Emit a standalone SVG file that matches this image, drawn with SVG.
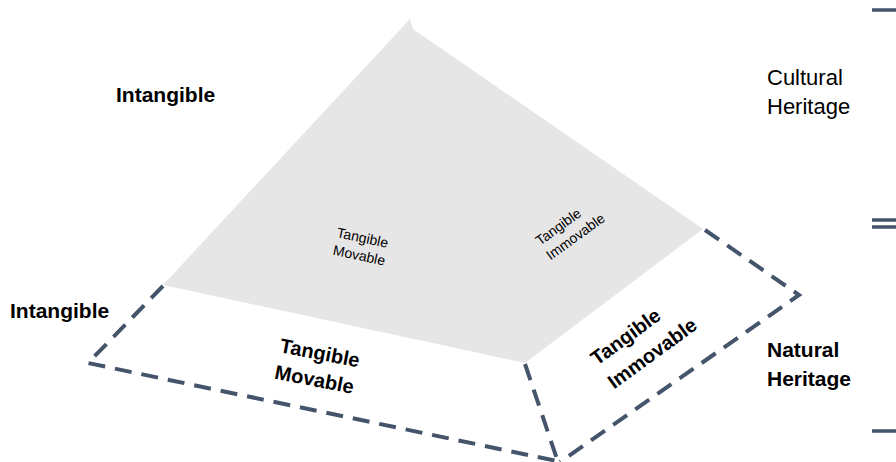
<svg xmlns="http://www.w3.org/2000/svg" width="896" height="462" viewBox="0 0 896 462">
  <style>
    .lbl { font-family: "Liberation Sans", Arial, sans-serif; fill: #000; }
    .b { font-weight: bold; }
    .edge { fill: none; stroke: #44546a; stroke-width: 4; stroke-dasharray: 17 10; }
    .tick { stroke: #44546a; stroke-width: 3.5; }
  </style>
  <rect width="896" height="462" fill="#ffffff"/>

  <!-- top face of the heritage pyramid -->
  <g id="top-face">
    <polygon points="410,19 413,29 703,229 525,363 163,285" fill="#e7e6e6"/>
    <text class="lbl" font-size="14" transform="translate(336,237) rotate(12)">
      <tspan x="0" y="0">Tangible</tspan><tspan x="0" y="18">Movable</tspan>
    </text>
    <text class="lbl" font-size="14" transform="translate(540,246) rotate(-36)">
      <tspan x="0" y="0">Tangible</tspan><tspan x="0" y="18">Immovable</tspan>
    </text>
  </g>

  <!-- lower edges -->
  <g id="connectors">
    <polyline class="edge" points="163,286 88,363 557,461"/>
    <line class="edge" x1="525" y1="364" x2="558" y2="462"/>
    <polyline class="edge" points="705,230 799,295 560,462"/>
  </g>

  <g id="movable-face">
    <text class="lbl b" font-size="20" transform="translate(279,352) rotate(11)">
      <tspan x="0" y="0">Tangible</tspan><tspan x="0" y="27">Movable</tspan>
    </text>
  </g>

  <g id="immovable-face">
    <text class="lbl b" font-size="20" transform="translate(597,366) rotate(-36)">
      <tspan x="0" y="0">Tangible</tspan><tspan x="0" y="29">Immovable</tspan>
    </text>
  </g>

  <g id="intangible-top">
    <text class="lbl b" font-size="21" x="116" y="102">Intangible</text>
  </g>
  <g id="intangible-side">
    <text class="lbl b" font-size="21" x="10" y="318">Intangible</text>
  </g>

  <g id="cultural-heritage">
    <text class="lbl" font-size="22" x="767" y="85">Cultural</text>
    <text class="lbl" font-size="22" x="767" y="114">Heritage</text>
  </g>

  <g id="natural-heritage">
    <text class="lbl b" font-size="21" x="767" y="357">Natural</text>
    <text class="lbl b" font-size="21" x="767" y="386">Heritage</text>
  </g>

  <!-- scale marks on the right margin -->
  <g id="scale-marks">
    <line class="tick" x1="872" y1="10" x2="896" y2="10"/>
    <line class="tick" x1="872" y1="220" x2="896" y2="220"/>
    <line class="tick" x1="872" y1="227" x2="896" y2="227"/>
    <line class="tick" x1="872" y1="431" x2="896" y2="431"/>
  </g>
</svg>
